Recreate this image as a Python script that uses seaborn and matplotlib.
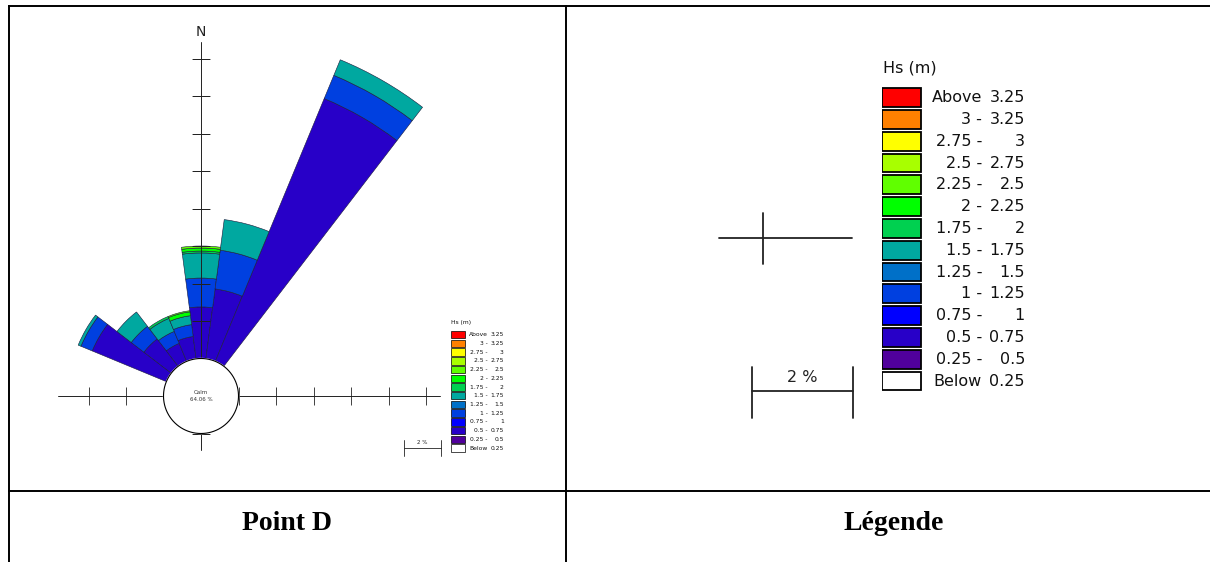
import numpy as np
import pandas as pd
import matplotlib
matplotlib.use("Agg")
import matplotlib.pyplot as plt
import seaborn as sns

# === Data ===
calm_text = "Calm\n64.06 %"
direction_deg = [300, 315, 330, 345, 0, 15, 30]

# frequency (%) of each Hs class per direction, stacked from the calm circle outwards
freq_050_075 = [4.28, 1.84, 1.04, 1.20, 2.75, 3.76, 15.17]
freq_100_125 = [0.65, 0.85, 0.69, 0.64, 1.54, 2.08, 1.34]
freq_150_175 = [0.16, 0.96, 0.75, 0.48, 1.34, 1.65, 0.90]
freq_175_200 = [0.00, 0.00, 0.11, 0.00, 0.10, 0.00, 0.00]
freq_200_225 = [0.00, 0.00, 0.00, 0.21, 0.16, 0.00, 0.00]
freq_225_250 = [0.00, 0.00, 0.00, 0.06, 0.11, 0.00, 0.00]

hs_left = ["Above", "3 -", "2.75 -", "2.5 -", "2.25 -", "2 -", "1.75 -",
           "1.5 -", "1.25 -", "1 -", "0.75 -", "0.5 -", "0.25 -", "Below"]
hs_right = ["3.25", "3.25", "3", "2.75", "2.5", "2.25", "2",
            "1.75", "1.5", "1.25", "1", "0.75", "0.5", "0.25"]
hs_colors = ["#FF0000", "#FF8000", "#FFFF00", "#A8FF00", "#60FF00", "#00FF00", "#00D050",
             "#00A8A0", "#0070C8", "#0040E0", "#0000FF", "#2800C8", "#50009C", "#FFFFFF"]

# which legend row each stacked layer uses
layers = [
    (freq_050_075, 11),
    (freq_100_125, 9),
    (freq_150_175, 7),
    (freq_175_200, 6),
    (freq_200_225, 5),
    (freq_225_250, 4),
]

sns.set_theme(style="white")
plt.rcParams["font.family"] = ["DejaVu Sans"]

W, H = 1210, 562
fig = plt.figure(figsize=(W / 100, H / 100), dpi=100)


def px_axes(x0, y0, w, h, **kw):
    return fig.add_axes([x0 / W, 1 - (y0 + h) / H, w / W, h / H], **kw)


# === Table frame ===
bg = px_axes(0, 0, W, H)
bg.set_xlim(0, W)
bg.set_ylim(H, 0)
bg.set_axis_off()
for xs, ys in [([8.5, W], [6, 6]), ([8.5, 8.5], [6, H]), ([566, 566], [6, H]), ([8.5, W], [491, 491])]:
    bg.plot(xs, ys, color="black", lw=1.4, solid_capstyle="projecting")

bg.text(287, 524, "Point D", ha="center", va="center", fontsize=20, fontweight="bold",
        family="Liberation Serif", color="black")
bg.text(894, 524, "Légende", ha="center", va="center", fontsize=20, fontweight="bold",
        family="Liberation Serif", color="black")

# big cross + scale bar in the legend cell
ink = "#222222"
bg.plot([719, 852], [238, 238], color=ink, lw=1.3)
bg.plot([763, 763], [213, 264], color=ink, lw=1.3)
bg.plot([752, 853], [391, 391], color=ink, lw=1.3)
bg.plot([752, 752], [367, 418], color=ink, lw=1.3)
bg.plot([853, 853], [367, 418], color=ink, lw=1.3)
bg.text(802, 378, "2 %", ha="center", va="center", fontsize=11.5, color=ink)

# small scale bar next to the rose
bg.plot([404, 441], [448, 448], color=ink, lw=0.6)
bg.plot([404, 404], [440, 456], color=ink, lw=0.6)
bg.plot([441, 441], [440, 456], color=ink, lw=0.6)
bg.text(422, 443, "2 %", ha="center", va="center", fontsize=4, color=ink)

# === Wave rose ===
calm_r = 2.0          # calm circle radius in % units
px_per_unit = 18.75
rmax = 20
cx, cy = 201, 396
R = rmax * px_per_unit
ax = px_axes(cx - R, cy - R, 2 * R, 2 * R, projection="polar")
ax.set_theta_zero_location("N")
ax.set_theta_direction(-1)
ax.set_ylim(0, rmax)
ax.grid(False)
ax.set_xticks([])
ax.set_yticks([])
ax.spines["polar"].set_visible(False)
ax.patch.set_alpha(0)

theta = np.deg2rad(direction_deg)
bottom = np.full(len(theta), calm_r)
for vals, ci in layers:
    vals = np.asarray(vals)
    m = vals > 0
    ax.bar(theta[m], vals[m], width=np.deg2rad(15), bottom=bottom[m],
           color=hs_colors[ci], edgecolor="#1a1a3a", linewidth=0.4, zorder=2)
    bottom = bottom + vals

# cross axes with ticks
axis_len = {0: 18.88, 90: 12.75, 180: 2.9, 270: 7.63}
for ang, rl in axis_len.items():
    t = np.deg2rad(ang)
    ax.plot([t, t], [calm_r, rl], color="#222222", lw=0.7, zorder=3)
    ticks = np.arange(calm_r, rl + 0.01, 2.0)
    ax.plot(np.full(len(ticks), t), ticks, ls="none", color="#222222",
            marker="_" if ang in (0, 180) else "|", ms=13, mew=0.6, zorder=3)

circ = np.linspace(0, 2 * np.pi, 361)
ax.fill(circ, np.full(len(circ), calm_r), color="white", zorder=4)
ax.plot(circ, np.full(len(circ), calm_r), color="black", lw=0.8, zorder=5)
ax.text(0, 0, calm_text, ha="center", va="center", fontsize=4, color="#333333",
        linespacing=1.3, zorder=6)
ax.text(0, 19.4, "N", ha="center", va="center", fontsize=10, color="#222222")


# === Hs legends ===
def draw_hs_legend(lax, fs, lw):
    df = pd.DataFrame({"label": hs_left, "w": 39.3})
    sns.barplot(data=df, x="w", y="label", hue="label", palette=hs_colors, orient="h",
                width=0.86, saturation=1, edgecolor="black", linewidth=lw,
                dodge=False, legend=False, ax=lax)
    lax.set_xlim(0, 145)
    lax.set_ylim(13.6, -2.2)
    lax.set_axis_off()
    lax.text(1.3, -1.35, "Hs (m)", ha="left", va="center", fontsize=fs, color="#111111")
    for i, (lt, rt) in enumerate(zip(hs_left, hs_right)):
        lax.text(100.3, i, lt, ha="right", va="center", fontsize=fs, color="#111111")
        lax.text(143.3, i, rt, ha="right", va="center", fontsize=fs, color="#111111")


row = 21.8
big = px_axes(881.7, 97.6 - 2.2 * row, 145, 15.8 * row)
draw_hs_legend(big, 11.5, 1.3)

srow = 8.72
small = px_axes(450.7, 334.7 - 2.2 * srow, 145 * 0.37, 15.8 * srow)
draw_hs_legend(small, 4.3, 0.5)

fig.savefig("out.png", dpi=100)
